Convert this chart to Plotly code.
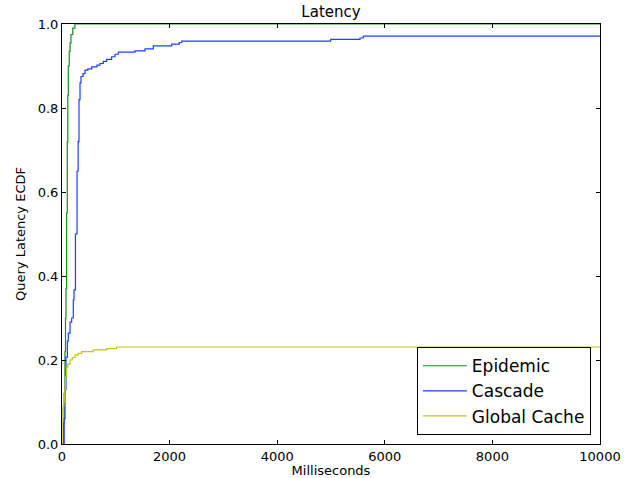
import plotly.graph_objects as go

# Epidemic ECDF (ms, fraction)
epidemic_ms = [0, 20, 30, 40, 55, 65, 74, 85, 98, 108, 117, 135, 150, 167, 200, 240, 10000]
epidemic_y = [0.0, 0.0, 0.05, 0.12, 0.22, 0.3, 0.37, 0.55, 0.72, 0.83, 0.9, 0.935, 0.955, 0.975, 0.99, 1.0, 1.0]

# Cascade ECDF
cascade_ms = [25, 40, 56, 74, 100, 117, 150, 180, 210, 223, 250, 280, 300, 316, 335, 353, 390, 427,
              480, 552, 650, 706, 768, 830, 923, 985, 1047, 1357, 1543, 1697, 2039, 2180, 2225,
              4994, 5539, 5600, 10000]
cascade_y = [0.0, 0.06, 0.13, 0.207, 0.245, 0.264, 0.29, 0.3, 0.343, 0.367, 0.5, 0.65, 0.72, 0.82,
             0.86, 0.875, 0.882, 0.89, 0.893, 0.898, 0.902, 0.906, 0.911, 0.916, 0.922, 0.928,
             0.933, 0.936, 0.941, 0.948, 0.952, 0.956, 0.959, 0.9635, 0.9667, 0.971, 0.971]

# Global Cache ECDF
cache_ms = [0, 3, 20, 35, 50, 65, 87, 110, 149, 190, 242, 300, 366, 580, 830, 1015, 10000]
cache_y = [0.0, 0.085, 0.09, 0.1, 0.13, 0.16, 0.183, 0.19, 0.2, 0.206, 0.212, 0.216, 0.22,
           0.224, 0.227, 0.231, 0.231]

series = [
    ("Epidemic", epidemic_ms, epidemic_y, "#1a8c1a"),
    ("Cascade", cascade_ms, cascade_y, "#1f3fff"),
    ("Global Cache", cache_ms, cache_y, "#c4c41c"),
]

x_ticks = [0, 2000, 4000, 6000, 8000, 10000]
y_ticks = [0.0, 0.2, 0.4, 0.6, 0.8, 1.0]

fig = go.Figure()
for name, xs, ys, color in series:
    fig.add_trace(go.Scatter(x=xs, y=ys, mode="lines", name=name, legendgroup=name,
                             line=dict(color=color, width=1.2, shape="hv")))

font_family = "DejaVu Sans"
fig.update_layout(
    width=636, height=478,
    margin=dict(l=62, r=36, t=24, b=34),
    paper_bgcolor="white", plot_bgcolor="white",
    font=dict(family=font_family, size=13, color="black"),
    title=dict(text="Latency", x=0.5, xref="paper", xanchor="center",
               y=1 - 12 / 478, yanchor="middle", font=dict(size=15)),
    showlegend=True,
    legend=dict(x=0.983, y=0.021, xanchor="right", yanchor="bottom",
                bgcolor="white", bordercolor="black", borderwidth=1,
                tracegroupgap=0, itemwidth=44, font=dict(size=17)),
)
fig.update_xaxes(range=[0, 10000], tickvals=x_ticks, ticktext=[str(v) for v in x_ticks],
                 ticks="inside", ticklen=4, tickcolor="black", mirror="ticks",
                 showline=True, linecolor="black", linewidth=1, showgrid=False, zeroline=False,
                 automargin=False,
                 title=dict(text="Milliseconds", standoff=2, font=dict(size=13)))
fig.update_yaxes(range=[0, 1], tickvals=y_ticks, ticktext=[f"{v:.1f}" for v in y_ticks],
                 ticks="inside", ticklen=4, tickcolor="black", mirror="ticks",
                 showline=True, linecolor="black", linewidth=1, showgrid=False, zeroline=False,
                 automargin=False,
                 title=dict(text="Query Latency ECDF", standoff=9, font=dict(size=13)))

fig.write_html("out.html", config={"displayModeBar": False},
               post_script="document.body.style.margin='0';")
